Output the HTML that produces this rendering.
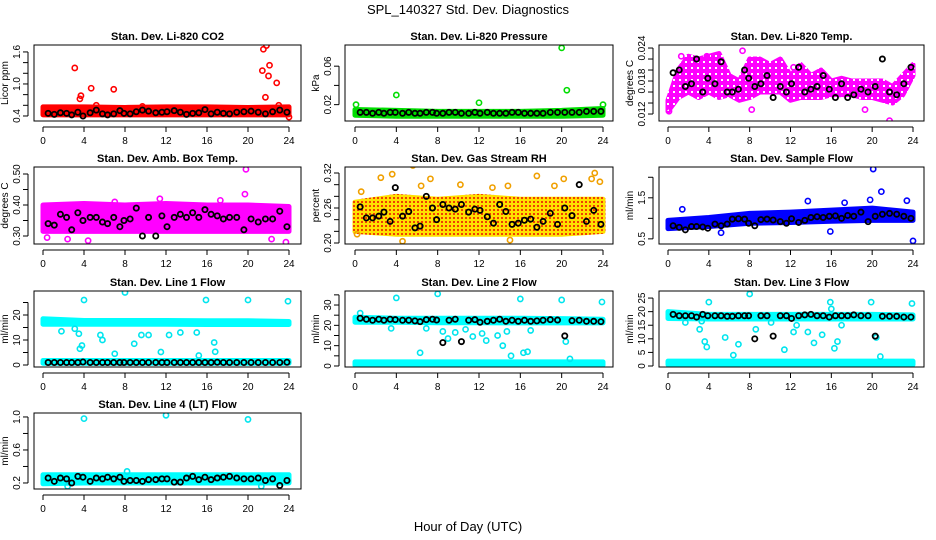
<!DOCTYPE html>
<html><head><meta charset="utf-8"><style>
html,body{margin:0;padding:0;background:#fff;}
svg{display:block;font-family:"Liberation Sans",sans-serif;}
</style></head><body>
<svg id="chart" width="936" height="540" xmlns="http://www.w3.org/2000/svg">
<defs>
<pattern id="rhPat" width="4" height="4" patternUnits="userSpaceOnUse">
<rect width="4" height="4" fill="#ffe000"/>
<rect x="1" y="1" width="2" height="2" fill="#f04000"/>
</pattern>
<pattern id="tempPat" width="6" height="6" patternUnits="userSpaceOnUse">
<rect width="6" height="6" fill="#ff00ff"/>
<rect x="1" y="1" width="2" height="2" fill="#fff"/>
</pattern>
</defs>
<rect width="936" height="540" fill="#fff"/>
<text x="468" y="14" text-anchor="middle" font-size="13">SPL_140327  Std. Dev. Diagnostics</text>
<text x="468" y="531" text-anchor="middle" font-size="13">Hour of Day (UTC)</text>
</svg>
<script>
const xTicks=[0,4,8,12,16,20,24];
const bandHours=[0,4,8,12,16,20,24];
const tempHours=[0,1,2,3,4,5,6,7,8,9,10,11,12,13,14,15,16,17,18,19,20,21,22,23,24];
const blackHours=[0.5,1.1,1.7,2.3,2.8,3.4,3.9,4.6,5.2,5.8,6.3,6.9,7.5,7.9,8.5,9.1,9.7,10.3,11.0,11.6,12.1,12.8,13.4,14.0,14.6,15.2,15.8,16.4,17.0,17.6,18.2,18.9,19.6,20.3,21.0,21.7,22.4,23.1,23.8];

const co2BandLo=[0.42,0.42,0.42,0.42,0.42,0.42,0.42];
const co2BandHi=[0.57,0.57,0.56,0.57,0.57,0.56,0.57];
const co2OutX=[3.1,3.6,3.7,4.7,5.2,6.9,9.7,21.4,21.5,21.7,21.8,22.0,22.1,22.8,23.0,24.0];
const co2OutY=[1.3,0.72,0.78,0.92,0.6,0.9,0.58,1.25,1.65,0.75,1.72,1.15,1.35,1.02,0.6,0.38];
const co2Black=[0.45,0.43,0.46,0.45,0.42,0.47,0.40,0.46,0.51,0.44,0.42,0.44,0.50,0.45,0.44,0.48,0.51,0.49,0.46,0.47,0.48,0.50,0.47,0.43,0.45,0.46,0.52,0.44,0.47,0.45,0.44,0.47,0.48,0.49,0.47,0.44,0.48,0.51,0.47];

const presBandLo=[0.009,0.008,0.008,0.008,0.008,0.008,0.009];
const presBandHi=[0.015,0.014,0.013,0.013,0.013,0.014,0.016];
const presOutX=[0.1,4.0,12.0,20.0,20.5,24.0];
const presOutY=[0.02,0.03,0.022,0.079,0.035,0.02];
const presBlack=[0.012,0.012,0.011,0.012,0.011,0.012,0.012,0.011,0.012,0.011,0.011,0.012,0.012,0.011,0.011,0.012,0.012,0.011,0.011,0.012,0.011,0.012,0.011,0.011,0.011,0.012,0.012,0.011,0.011,0.011,0.011,0.012,0.012,0.012,0.012,0.012,0.013,0.013,0.013];

const tempBandLo=[0.0125,0.015,0.016,0.015,0.016,0.015,0.0155,0.0145,0.015,0.016,0.016,0.016,0.0145,0.015,0.015,0.015,0.0155,0.0155,0.0155,0.015,0.015,0.0145,0.014,0.0155,0.019];
const tempBandHi=[0.0145,0.020,0.0225,0.022,0.0225,0.023,0.019,0.018,0.022,0.022,0.021,0.022,0.019,0.021,0.019,0.020,0.018,0.0185,0.018,0.018,0.018,0.018,0.017,0.019,0.021];
const tempOutX=[0.1,1.3,7.3,8.2,19.3,21.7,3.8,12.3];
const tempOutY=[0.0125,0.0225,0.0235,0.0128,0.0128,0.0108,0.0225,0.0205];
const tempBlack=[0.0195,0.020,0.017,0.0175,0.022,0.016,0.0185,0.0175,0.0215,0.016,0.016,0.0165,0.020,0.0185,0.0170,0.0175,0.019,0.015,0.017,0.016,0.0175,0.0205,0.016,0.0165,0.0170,0.019,0.0165,0.015,0.0175,0.015,0.0155,0.0165,0.016,0.017,0.022,0.016,0.0155,0.0175,0.0205];

const ambBandLo=[0.315,0.315,0.315,0.315,0.315,0.315,0.315];
const ambBandHi=[0.40,0.405,0.40,0.405,0.40,0.40,0.395];
const ambOutX=[0.4,2.4,4.4,7.0,11.4,15.8,17.3,19.7,19.8,23.7,22.3];
const ambOutY=[0.295,0.29,0.285,0.41,0.42,0.39,0.415,0.435,0.515,0.28,0.29];
const ambBlack=[0.34,0.335,0.37,0.36,0.32,0.375,0.35,0.36,0.36,0.345,0.34,0.36,0.33,0.35,0.355,0.39,0.30,0.36,0.30,0.365,0.33,0.36,0.37,0.36,0.375,0.36,0.385,0.37,0.365,0.355,0.36,0.36,0.32,0.355,0.345,0.355,0.355,0.38,0.33];

const rhBandLo=[0.22,0.215,0.215,0.215,0.215,0.215,0.22];
const rhBandHi=[0.27,0.28,0.275,0.28,0.275,0.275,0.275];
const rhOutX=[0.2,0.6,2.5,3.6,4.6,5.6,6.4,7.3,10.2,13.3,14.8,15.0,17.6,19.3,20.2,22.9,23.2,23.7];
const rhOutY=[0.215,0.288,0.312,0.318,0.203,0.333,0.298,0.31,0.3,0.295,0.298,0.205,0.315,0.298,0.31,0.31,0.32,0.305];
const rhBlack=[0.262,0.243,0.243,0.246,0.253,0.237,0.295,0.246,0.254,0.226,0.229,0.28,0.26,0.24,0.266,0.26,0.258,0.266,0.253,0.258,0.256,0.245,0.234,0.266,0.254,0.232,0.234,0.239,0.241,0.227,0.237,0.251,0.232,0.26,0.247,0.3,0.237,0.256,0.232];

const flowBandLo=[0.75,0.8,0.88,0.9,0.93,0.95,0.95];
const flowBandHi=[0.95,1.02,1.12,1.15,1.2,1.25,1.15];
const flowOutX=[1.4,5.2,13.7,15.9,17.3,19.8,20.1,20.9,23.4,24.0];
const flowOutY=[1.22,0.65,1.42,0.68,1.38,1.45,2.2,1.65,1.43,0.45];
const flowBlack=[0.82,0.78,0.72,0.8,0.8,0.79,0.76,0.86,0.82,0.86,0.98,0.99,0.98,0.88,0.82,0.97,0.98,0.96,0.92,0.88,0.99,0.9,0.95,1.02,1.04,1.02,1.05,1.06,1.0,1.07,1.05,1.15,0.92,1.05,1.1,1.12,1.1,1.05,1.0];

const l1BandLo=[16.3,16.3,16.3,16.3,16.2,16.2,16.2];
const l1BandHi=[18.5,17.8,17.8,17.8,17.7,17.7,17.4];
const l1LowLo=[0.7,0.7,0.7,0.7,0.7,0.7,0.7];
const l1LowHi=[1.8,1.8,1.8,1.8,1.8,1.8,1.8];
const l1OutX=[1.8,3.1,3.5,3.6,3.8,4.0,5.6,5.8,7.0,8.0,8.9,9.6,10.3,11.5,12.3,13.4,15.0,15.2,15.9,16.7,16.8,20.0,23.9];
const l1OutY=[13.5,14.5,12.5,6.5,7.8,26,12,10,4.5,29,8.5,12,12,5.2,12,13,13,3.8,26,9,5.3,26,25.5];
const l1Black=[1,1,1,1,1,1,1.2,1,1,1,1,1,1,1,1,1,1,1,1,1,1,1,1,1,1,1,1,1,1.1,1,1,1,1,1,1,1,1,1,1.1];

const l2BandLo=[21.5,21.5,21.3,21.3,21.2,21.2,21.2];
const l2BandHi=[24.0,23.5,23.5,23.5,23.5,23.3,23.0];
const l2LowLo=[0.4,0.4,0.4,0.4,0.4,0.4,0.4];
const l2LowHi=[2.0,2.0,2.0,2.0,2.0,2.0,2.0];
const l2OutX=[0.5,3.5,4.0,6.3,6.9,8.0,8.5,9.0,9.7,10.7,11.4,12.3,12.7,13.8,14.3,14.7,15.1,16.0,16.3,16.7,17.0,20.0,20.4,20.8,23.9];
const l2OutY=[26,18.5,33.5,6.5,18.5,35.5,17,13.5,16.5,18,14.5,16,12.5,15,10,17,5,33,6.5,7,17.5,32.5,12,3.5,31.5];
const l2Black=[23.5,23,22.5,23,22.5,23,22.8,22.5,22.5,22.2,21.8,22.8,23,22.6,11.5,22.5,23,12,22.5,22.8,21.5,22,22.5,23,22,22.5,22,22.5,22,22.2,22.5,22.8,22.6,14.8,22.3,22.5,22,22,21.8];

const l3BandLo=[17.5,17.3,17.3,17.3,17.3,17.3,17.3];
const l3BandHi=[20.0,19.0,19.0,19.0,19.0,19.0,18.8];
const l3LowLo=[0.5,0.5,0.5,0.5,0.5,0.5,0.5];
const l3LowHi=[1.8,1.8,1.8,1.8,1.8,1.8,1.8];
const l3OutX=[1.7,3.1,3.3,3.6,3.8,4.0,5.6,6.4,6.9,8.0,8.6,10.1,11.4,12.3,12.6,13.7,14.3,15.1,15.9,16.0,16.3,16.6,17.0,19.9,20.4,20.8,23.9];
const l3OutY=[16,13.5,16.5,9,7,23.5,10.5,4,8,26.5,13.5,16,6,12.5,15,12.5,8.5,11.5,23.5,21,6.5,9,15,23.5,10.5,3.5,23];
const l3Black=[19,18.5,18.5,18.5,18,19,18.5,18.5,18.5,18.3,18.3,18.5,18.5,18.5,10,18.5,18.5,11,18.5,18.5,17.5,18.5,18.8,19,18.5,18.5,18,18.5,18.5,18.5,18.8,18.5,18.5,11,18.3,18.3,18.3,18,18];

const l4BandLo=[0.19,0.2,0.2,0.2,0.2,0.2,0.2];
const l4BandHi=[0.3,0.3,0.3,0.3,0.3,0.3,0.3];
const l4OutX=[4.0,8.2,12.0,20.0,21.3,2.4];
const l4OutY=[0.98,0.34,1.02,0.97,0.16,0.16];
const l4Black=[0.26,0.22,0.26,0.25,0.2,0.28,0.27,0.22,0.26,0.25,0.27,0.25,0.27,0.22,0.23,0.23,0.22,0.24,0.24,0.25,0.25,0.21,0.21,0.26,0.28,0.24,0.27,0.24,0.26,0.27,0.28,0.26,0.25,0.25,0.26,0.23,0.25,0.17,0.23];

const NS="http://www.w3.org/2000/svg";
const svg=document.getElementById('chart');
const cols=[[34,301,43,289],[345,613,355,603],[659,924,668,913]];
const rows=[[45,121],[167,244],[291,367],[413,489]];
function mk(tag,attrs,parent){const e=document.createElementNS(NS,tag);for(const k in attrs)e.setAttribute(k,attrs[k]);(parent||svg).appendChild(e);return e;}

function panel(c){
  const [bl,br,x0,x24]=cols[c.col];const [bt,bb]=rows[c.row];
  const g=mk('g',{});
  
  
  const xs=h=>x0+(x24-x0)*h/24;
  const ys=v=>bb-(v-c.ymin)/(c.ymax-c.ymin)*(bb-bt);
  const t=mk('text',{x:(bl+br)/2,y:bt-5,'text-anchor':'middle','font-size':11,'font-weight':'bold'},g);
  t.textContent=c.title;
  
  
  const clip=mk('clipPath',{id:'clip'+c.name},g);
  mk('rect',{x:bl,y:bt,width:br-bl,height:bb-bt},clip);
  const pg=mk('g',{'clip-path':'url(#clip'+c.name+')'},g);
  c.bands.forEach(b=>{
    let pts=b.x.map((h,i)=>xs(h)+','+ys(b.hi[i]));
    pts=pts.concat(b.x.map((h,i)=>xs(h)+','+ys(b.lo[i])).reverse());
    const p=mk('polygon',{points:pts.join(' '),fill:b.color,stroke:b.color,'stroke-width':5,'stroke-linejoin':'round'},pg);
    
    
  });
  c.outX.forEach((h,i)=>{
    const e=mk('circle',{cx:xs(h),cy:ys(c.outY[i]),r:2.6,fill:'none',stroke:c.color,'stroke-width':1.6},pg);
    
    
  });
  blackHours.forEach((h,i)=>{
    const e=mk('circle',{cx:xs(h),cy:ys(c.black[i]),r:2.6,fill:'none',stroke:'#000','stroke-width':1.8},pg);
    
    
  });
  const box=mk('rect',{x:bl,y:bt,width:br-bl,height:bb-bt,fill:'none',stroke:'#000','stroke-width':1},g);
  
  
  mk('line',{x1:xs(0),x2:xs(24),y1:bb+6,y2:bb+6,stroke:'#000'},g);
  xTicks.forEach(h=>{
    mk('line',{x1:xs(h),x2:xs(h),y1:bb+6,y2:bb+11,stroke:'#000'},g);
    const l=mk('text',{x:xs(h),y:bb+23,'text-anchor':'middle','font-size':10},g);
    l.textContent=h;
    
    
  });
  const ya=bl-6;
  mk('line',{x1:ya,x2:ya,y1:ys(c.ticks[0]),y2:ys(c.ticks[c.ticks.length-1]),stroke:'#000'},g);
  c.ticks.forEach(v=>{mk('line',{x1:ya-5,x2:ya,y1:ys(v),y2:ys(v),stroke:'#000'},g);});
  c.labels.forEach(v=>{
    const l=mk('text',{x:ya-8,y:ys(v),'text-anchor':'middle','font-size':10,transform:'rotate(-90 '+(ya-8)+' '+ys(v)+')'},g);
    l.textContent=v;
    
    
  });
  const yl=mk('text',{x:bl-26,y:(bt+bb)/2,'text-anchor':'middle','font-size':10,transform:'rotate(-90 '+(bl-26)+' '+((bt+bb)/2)+')'},g);
  yl.textContent=c.ylab;
  
  
}
const band=(lo,hi,color,x)=>({x:x||bandHours,lo,hi,color});
panel({name:'co2',col:0,row:0,title:'Stan. Dev. Li-820 CO2',ylab:'Licor ppm',ymin:0.306,ymax:1.73,ticks:[0.4,0.6,0.8,1.0,1.2,1.4,1.6],labels:['0.4','1.0','1.6'],bands:[band(co2BandLo,co2BandHi,'#ff0000')],outX:co2OutX,outY:co2OutY,color:'#ff0000',black:co2Black});
panel({name:'pressure',col:1,row:0,title:'Stan. Dev. Li-820 Pressure',ylab:'kPa',ymin:0.003,ymax:0.082,ticks:[0.02,0.04,0.06],labels:['0.02','0.06'],bands:[band(presBandLo,presBandHi,'#00dd00')],outX:presOutX,outY:presOutY,color:'#00dd00',black:presBlack});
panel({name:'temp',col:2,row:0,title:'Stan. Dev. Li-820 Temp.',ylab:'degrees C',ymin:0.01073,ymax:0.02455,ticks:[0.012,0.014,0.016,0.018,0.020,0.022,0.024],labels:['0.012','0.018','0.024'],bands:[band(tempBandLo,tempBandHi,'url(#tempPat)',tempHours)],outX:tempOutX,outY:tempOutY,color:'#ff00ff',black:tempBlack});
panel({name:'ambtemp',col:0,row:1,title:'Stan. Dev. Amb. Box Temp.',ylab:'degrees C',ymin:0.2742,ymax:0.5226,ticks:[0.30,0.35,0.40,0.45,0.50],labels:['0.30','0.40','0.50'],bands:[band(ambBandLo,ambBandHi,'#ff00ff')],outX:ambOutX,outY:ambOutY,color:'#ff00ff',black:ambBlack});
panel({name:'rh',col:1,row:1,title:'Stan. Dev. Gas Stream RH',ylab:'percent',ymin:0.1983,ymax:0.3303,ticks:[0.20,0.22,0.24,0.26,0.28,0.30,0.32],labels:['0.20','0.26','0.32'],bands:[band(rhBandLo,rhBandHi,'url(#rhPat)')],outX:rhOutX,outY:rhOutY,color:'#f0a000',black:rhBlack});
panel({name:'sampleflow',col:2,row:1,title:'Stan. Dev. Sample Flow',ylab:'ml/min',ymin:0.375,ymax:2.25,ticks:[0.5,1.0,1.5,2.0],labels:['0.5','1.5'],bands:[band(flowBandLo,flowBandHi,'#0000ff')],outX:flowOutX,outY:flowOutY,color:'#0000ff',black:flowBlack});
panel({name:'line1',col:0,row:2,title:'Stan. Dev. Line 1 Flow',ylab:'ml/min',ymin:-0.8,ymax:29.6,ticks:[0,5,10,15,20,25],labels:['0','10','20'],bands:[band(l1BandLo,l1BandHi,'#00ffff'),band(l1LowLo,l1LowHi,'#00ffff')],outX:l1OutX,outY:l1OutY,color:'#00e5ee',black:l1Black});
panel({name:'line2',col:1,row:2,title:'Stan. Dev. Line 2 Flow',ylab:'ml/min',ymin:-0.5,ymax:36.9,ticks:[0,5,10,15,20,25,30,35],labels:['0','10','20','30'],bands:[band(l2BandLo,l2BandHi,'#00ffff'),band(l2LowLo,l2LowHi,'#00ffff')],outX:l2OutX,outY:l2OutY,color:'#00e5ee',black:l2Black});
panel({name:'line3',col:2,row:2,title:'Stan. Dev. Line 3 Flow',ylab:'ml/min',ymin:-0.37,ymax:27.6,ticks:[0,5,10,15,20,25],labels:['0','5','10','15','20','25'],bands:[band(l3BandLo,l3BandHi,'#00ffff'),band(l3LowLo,l3LowHi,'#00ffff')],outX:l3OutX,outY:l3OutY,color:'#00e5ee',black:l3Black});
panel({name:'line4',col:0,row:3,title:'Stan. Dev. Line 4 (LT) Flow',ylab:'ml/min',ymin:0.127,ymax:1.048,ticks:[0.2,0.4,0.6,0.8,1.0],labels:['0.2','0.6','1.0'],bands:[band(l4BandLo,l4BandHi,'#00ffff')],outX:l4OutX,outY:l4OutY,color:'#00e5ee',black:l4Black});
</script>
</body></html>
